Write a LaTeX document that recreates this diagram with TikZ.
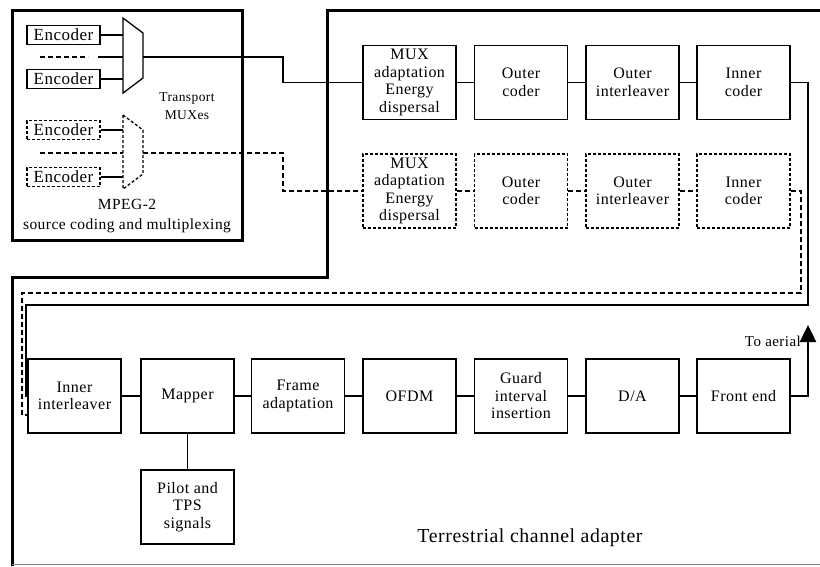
\documentclass[tikz,border=0pt]{standalone}
\usepackage{fontspec}
\setmainfont{Liberation Serif}[LetterSpace=3]
\usetikzlibrary{arrows.meta}
\begin{document}
\begin{tikzpicture}[x=1pt,y=-1pt,
  blk/.style={draw=black,line width=1.3pt,minimum width=93pt,minimum height=74pt,align=center,inner sep=0pt,font=\fontsize{16}{17.5}\selectfont},
  dblk/.style={blk,dash pattern=on 3pt off 2pt},
  enc/.style={draw=black,line width=1.3pt,minimum width=73pt,minimum height=19pt,inner sep=0pt,font=\fontsize{17}{18}\selectfont},
  denc/.style={enc,dash pattern=on 3pt off 2pt},
  wire/.style={line width=1.8pt},
  dwire/.style={line width=2.5pt,dash pattern=on 5pt off 3pt},
  swire/.style={line width=2pt,dash pattern=on 5pt off 3pt},
  frame/.style={line width=3pt},
  lbl/.style={align=center,inner sep=0pt},
]
\useasboundingbox (0,0) rectangle (820,566);

% outlines
\draw[frame] (12,10) rectangle (242,240);
\draw[frame] (12,566) -- (12,277) -- (327,277) -- (327,10) -- (820,10);
\draw[gray,line width=1pt] (12,564.5) -- (820,564.5);

% encoders
\node[enc]  (e1) at (63.5,35)  {Encoder};
\node[enc]  (e2) at (63.5,79)  {Encoder};
\node[denc] (e3) at (63.5,130) {Encoder};
\node[denc] (e4) at (63.5,177) {Encoder};

% muxes
\draw[line width=1.3pt] (123,18) -- (143,33) -- (143,78) -- (123,93) -- cycle;
\draw[line width=1.3pt,dash pattern=on 3pt off 2pt] (123,115) -- (143,130) -- (143,174) -- (123,189) -- cycle;
\coordinate (m1l) at (123,57);
\coordinate (m1o) at (143,57);
\coordinate (m2l) at (123,153);
\coordinate (m2o) at (143,153);
\coordinate (dl1) at (40,57);
\coordinate (dl2) at (88,57);
\coordinate (dl3) at (98,57);
\coordinate (dl4) at (40,153);

\draw[wire] (e1.east) -- (e1.east -| m1l);
\draw[wire] (e2.east) -- (e2.east -| m1l);
\draw[wire] (e3.east) -- (e3.east -| m2l);
\draw[wire] (e4.east) -- (e4.east -| m2l);
\draw[dwire] (dl1) -- (dl2);
\draw[line width=2.5pt] (dl3) -- (m1l);
\draw[dwire] (dl4) -- (m2l);

\node[lbl,font=\fontsize{13.5}{18}\selectfont] (tm) at (187,106) {Transport\\MUXes};
\node[lbl,font=\fontsize{15.5}{20}\selectfont] (mp) at (127,216) {MPEG-2\\source coding and multiplexing};

% top row
\node[blk] (mux1) at (409.5,82.5) {MUX\\adaptation\\Energy\\dispersal};
\node[blk] (oc1)  at (521,82.5)   {Outer\\coder};
\node[blk] (oi1)  at (632.5,82.5) {Outer\\interleaver};
\node[blk] (ic1)  at (743.5,82.5) {Inner\\coder};
% dashed row
\node[dblk] (mux2) at (409.5,191) {MUX\\adaptation\\Energy\\dispersal};
\node[dblk] (oc2)  at (521,191)   {Outer\\coder};
\node[dblk] (oi2)  at (632.5,191) {Outer\\interleaver};
\node[dblk] (ic2)  at (743.5,191) {Inner\\coder};
% bottom row
\node[blk] (ii)  at (74.5,396)  {Inner\\interleaver};
\node[blk] (map) at (187.5,396) {Mapper};
\node[blk] (fa)  at (298,396)   {Frame\\adaptation};
\node[blk] (of)  at (409.5,396) {OFDM};
\node[blk] (gi)  at (521,396)   {Guard\\interval\\insertion};
\node[blk] (da)  at (632.5,396) {D/A};
\node[blk] (fe)  at (743.5,396) {Front end};
\node[blk] (pil) at (187.5,507) {Pilot and\\TPS\\signals};

% connectors
\coordinate (j1) at (283,57);
\coordinate (j2) at (283,153);
\draw[wire] (m1o) -- (j1) |- (mux1.west);
\draw[dwire] (m2o) -- (j2) |- (mux2.west);
\draw[wire] (mux1) -- (oc1);
\draw[wire] (oc1) -- (oi1);
\draw[wire] (oi1) -- (ic1);
\draw[swire] (mux2) -- (oc2);
\draw[swire] (oc2) -- (oi2);
\draw[swire] (oi2) -- (ic2);

\coordinate (c1) at (808,305);
\coordinate (c2) at (26,305);
\draw[wire] (ic1.east) -| (c1) -- (c2) |- (ii.west);
\coordinate (d1) at (801,293);
\coordinate (d2) at (22,293);
\coordinate (d3) at (27,415);
\draw[dwire] (ic2.east) -| (d1) -- (d2) |- (d3);

\draw[wire] (ii) -- (map);
\draw[wire] (map) -- (fa);
\draw[wire] (fa) -- (of);
\draw[wire] (of) -- (gi);
\draw[wire] (gi) -- (da);
\draw[wire] (da) -- (fe);
\draw[wire] (map) -- (pil);

\coordinate (aer) at (808,325);
\draw[line width=2.5pt,-{Triangle[length=17pt,width=16pt]}] (fe.east) -| (aer);
\node[lbl,anchor=east,font=\fontsize{15}{16}\selectfont] (ta) at (801,341) {To aerial};
\node[lbl,font=\fontsize{19.8}{21}\selectfont] (tca) at (530,538) {Terrestrial channel adapter};
\end{tikzpicture}
\end{document}
